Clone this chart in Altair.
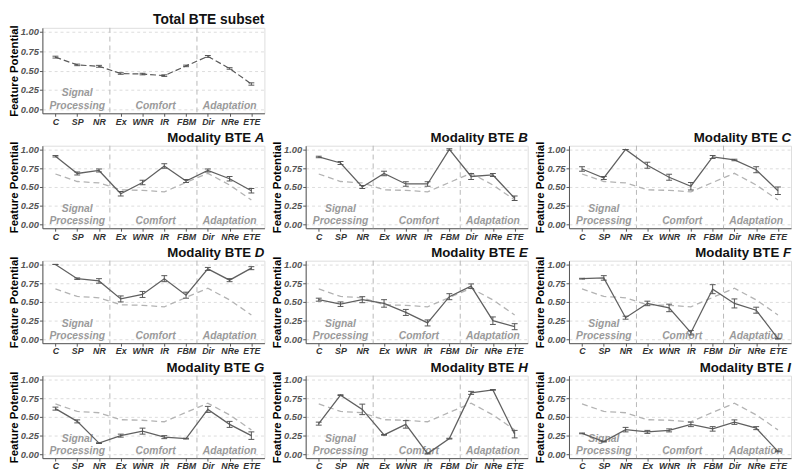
import altair as alt
import pandas as pd

categories = ["C", "SP", "NR", "Ex", "WNR", "IR", "FBM", "Dir", "NRe", "ETE"]

total_mean = [0.673, 0.573, 0.555, 0.462, 0.455, 0.435, 0.560, 0.682, 0.527, 0.327]
total_se = [0.012, 0.010, 0.012, 0.010, 0.010, 0.010, 0.010, 0.012, 0.010, 0.015]

bte_a = [0.91, 0.68, 0.72, 0.41, 0.56, 0.78, 0.58, 0.72, 0.61, 0.45]
bte_a_se = [0.01, 0.02, 0.02, 0.03, 0.03, 0.03, 0.02, 0.02, 0.03, 0.03]
bte_b = [0.90, 0.82, 0.50, 0.68, 0.54, 0.54, 1.00, 0.64, 0.66, 0.35]
bte_b_se = [0.01, 0.02, 0.02, 0.03, 0.03, 0.03, 0.01, 0.04, 0.02, 0.03]
bte_c = [0.74, 0.62, 1.00, 0.79, 0.63, 0.51, 0.90, 0.86, 0.73, 0.45]
bte_c_se = [0.03, 0.02, 0.00, 0.04, 0.04, 0.05, 0.02, 0.01, 0.04, 0.05]
bte_d = [1.00, 0.81, 0.78, 0.54, 0.60, 0.81, 0.59, 0.94, 0.79, 0.95]
bte_d_se = [0.00, 0.01, 0.03, 0.04, 0.04, 0.04, 0.04, 0.02, 0.02, 0.02]
bte_e = [0.53, 0.47, 0.53, 0.48, 0.36, 0.22, 0.57, 0.71, 0.25, 0.17]
bte_e_se = [0.02, 0.03, 0.04, 0.05, 0.04, 0.04, 0.04, 0.03, 0.05, 0.04]
bte_f = [0.81, 0.82, 0.29, 0.48, 0.42, 0.09, 0.67, 0.48, 0.39, 0.01]
bte_f_se = [0.005, 0.03, 0.02, 0.03, 0.05, 0.03, 0.06, 0.06, 0.04, 0.005]
bte_g = [0.61, 0.44, 0.15, 0.25, 0.31, 0.23, 0.21, 0.60, 0.40, 0.25]
bte_g_se = [0.02, 0.02, 0.005, 0.02, 0.04, 0.02, 0.005, 0.04, 0.04, 0.05]
bte_h = [0.41, 0.79, 0.60, 0.26, 0.40, 0.01, 0.21, 0.82, 0.86, 0.27]
bte_h_se = [0.02, 0.005, 0.07, 0.005, 0.05, 0.005, 0.005, 0.02, 0.005, 0.05]
bte_i = [0.28, 0.17, 0.33, 0.30, 0.32, 0.40, 0.34, 0.43, 0.35, 0.04]
bte_i_se = [0.005, 0.005, 0.03, 0.02, 0.02, 0.03, 0.03, 0.03, 0.02, 0.005]

modality_letters = ["A", "B", "C", "D", "E", "F", "G", "H", "I"]
modality_means = [bte_a, bte_b, bte_c, bte_d, bte_e, bte_f, bte_g, bte_h, bte_i]
modality_ses = [bte_a_se, bte_b_se, bte_c_se, bte_d_se, bte_e_se, bte_f_se, bte_g_se, bte_h_se, bte_i_se]

group_labels = ["Signal", "Processing", "Comfort", "Adaptation"]
group_x = [2.0, 2.0, 5.6, 9.0]
group_y = [0.21, 0.04, 0.04, 0.04]
separators = [3.5, 7.5]

FONT = "Liberation Sans"
PW = 226
label_expr = "[" + ",".join("'%s'" % c for c in categories) + "][datum.value - 1]"
letter_w = {"A": 9.7, "B": 9.7, "C": 9.7, "D": 9.7, "E": 9.0, "F": 8.2, "G": 10.5, "H": 9.7, "I": 3.8}

xscale = alt.Scale(domain=[0.4, 10.6], nice=False, zero=False)
yscale = alt.Scale(domain=[-0.05, 1.05], nice=False, zero=False)

X_AXIS = alt.Axis(
    values=list(range(1, 11)), labelExpr=label_expr, title=None, grid=False,
    labelFontStyle="italic", labelFontWeight="bold", labelFontSize=9,
    labelColor="#333333", tickSize=3, labelPadding=1, domainColor="#555555",
    tickColor="#555555", labelFont=FONT)
Y_AXIS = alt.Axis(
    values=[0, 0.25, 0.5, 0.75, 1.0], format=".2f", title="Feature Potential",
    grid=True, gridDash=[3, 3], gridColor="#d4d4d4", gridWidth=0.8,
    labelFontStyle="italic", labelFontWeight="bold", labelFontSize=9.5,
    labelColor="#555555", labelFont=FONT, tickSize=3, labelPadding=1,
    domainColor="#555555", tickColor="#555555",
    titleFontSize=11.5, titleFontWeight="bold", titleColor="#000000",
    titleFont=FONT, titlePadding=1)


def X(field):
    return alt.X(field, scale=xscale, axis=X_AXIS)


def Y(field):
    return alt.Y(field, scale=yscale, axis=Y_AXIS)


def panel(mean, se, ref, h, title_main, letter=None, total=False):
    df = pd.DataFrame({
        "idx": list(range(1, 11)),
        "cat": categories,
        "mean": mean,
        "lo": [m - s for m, s in zip(mean, se)],
        "hi": [m + s for m, s in zip(mean, se)],
        "ref": ref,
    })
    base = alt.Chart(df)
    sep = alt.Chart(pd.DataFrame({"pos": separators})).mark_rule(
        color="#b8b8b8", strokeDash=[5, 4], strokeWidth=1
    ).encode(x=X("pos:Q"), y=alt.value(0), y2=alt.value(h))
    gdf = pd.DataFrame({"lab": group_labels, "gx": group_x, "gy": group_y})
    groups = alt.Chart(gdf).mark_text(
        font=FONT, fontSize=10.5, fontStyle="italic", fontWeight="bold", color="#9a9a9a",
        baseline="middle", align="center"
    ).encode(x=X("gx:Q"), y=Y("gy:Q"), text="lab:N")

    layers = [sep, groups]
    if total:
        ref_line = base.mark_line(color="#5a5a5a", strokeDash=[6, 3], strokeWidth=1.2).encode(
            x=X("idx:Q"), y=Y("mean:Q"))
        layers.append(ref_line)
    else:
        ref_line = base.mark_line(color="#b3b3b3", strokeDash=[6, 4], strokeWidth=1.3).encode(
            x=X("idx:Q"), y=Y("ref:Q"))
        main_line = base.mark_line(color="#606060", strokeWidth=1.3).encode(
            x=X("idx:Q"), y=Y("mean:Q"))
        layers += [ref_line, main_line]
    ecolor = "#555555"
    err = base.mark_rule(color=ecolor, strokeWidth=1).encode(
        x=X("idx:Q"), y=Y("lo:Q"), y2="hi:Q")
    cap_lo = base.mark_tick(orient="horizontal", size=6, thickness=1, color=ecolor, opacity=1).encode(
        x=X("idx:Q"), y=Y("lo:Q"))
    cap_hi = base.mark_tick(orient="horizontal", size=6, thickness=1, color=ecolor, opacity=1).encode(
        x=X("idx:Q"), y=Y("hi:Q"))
    layers += [err, cap_lo, cap_hi]

    tdf = pd.DataFrame({"t": [title_main]})
    if letter is None:
        t1 = alt.Chart(tdf).mark_text(font=FONT, fontSize=14, fontWeight="bold", align="right",
                                      baseline="alphabetic", color="#111111").encode(
            x=alt.value(PW), y=alt.value(-4), text="t:N")
        layers.append(t1)
    else:
        t1 = alt.Chart(tdf).mark_text(font=FONT, fontSize=13.5, fontWeight="bold", align="right",
                                      baseline="alphabetic", color="#111111",
                                      dx=-(letter_w[letter] + 3.8)).encode(
            x=alt.value(PW), y=alt.value(-4), text="t:N")
        ldf = pd.DataFrame({"t": [letter]})
        t2 = alt.Chart(ldf).mark_text(font=FONT, fontSize=13.5, fontWeight="bold", fontStyle="italic",
                                      align="right", baseline="alphabetic", color="#111111").encode(
            x=alt.value(PW), y=alt.value(-4), text="t:N")
        layers += [t1, t2]
    return alt.layer(*layers).properties(width=PW, height=h)


top = panel(total_mean, total_se, total_mean, 87, "Total BTE subset", total=True)
rows = []
for r in range(3):
    row_charts = []
    for c in range(3):
        k = r * 3 + c
        row_charts.append(panel(modality_means[k], modality_ses[k], total_mean, 84,
                                "Modality BTE", letter=modality_letters[k]))
    rows.append(alt.hconcat(*row_charts, spacing=6))

chart = alt.vconcat(top, *rows, spacing=3).properties(padding=0).configure_view(
    strokeWidth=0, stroke="transparent").configure(font=FONT)

chart.save("out.html", embed_options={"renderer": "svg", "actions": False})
